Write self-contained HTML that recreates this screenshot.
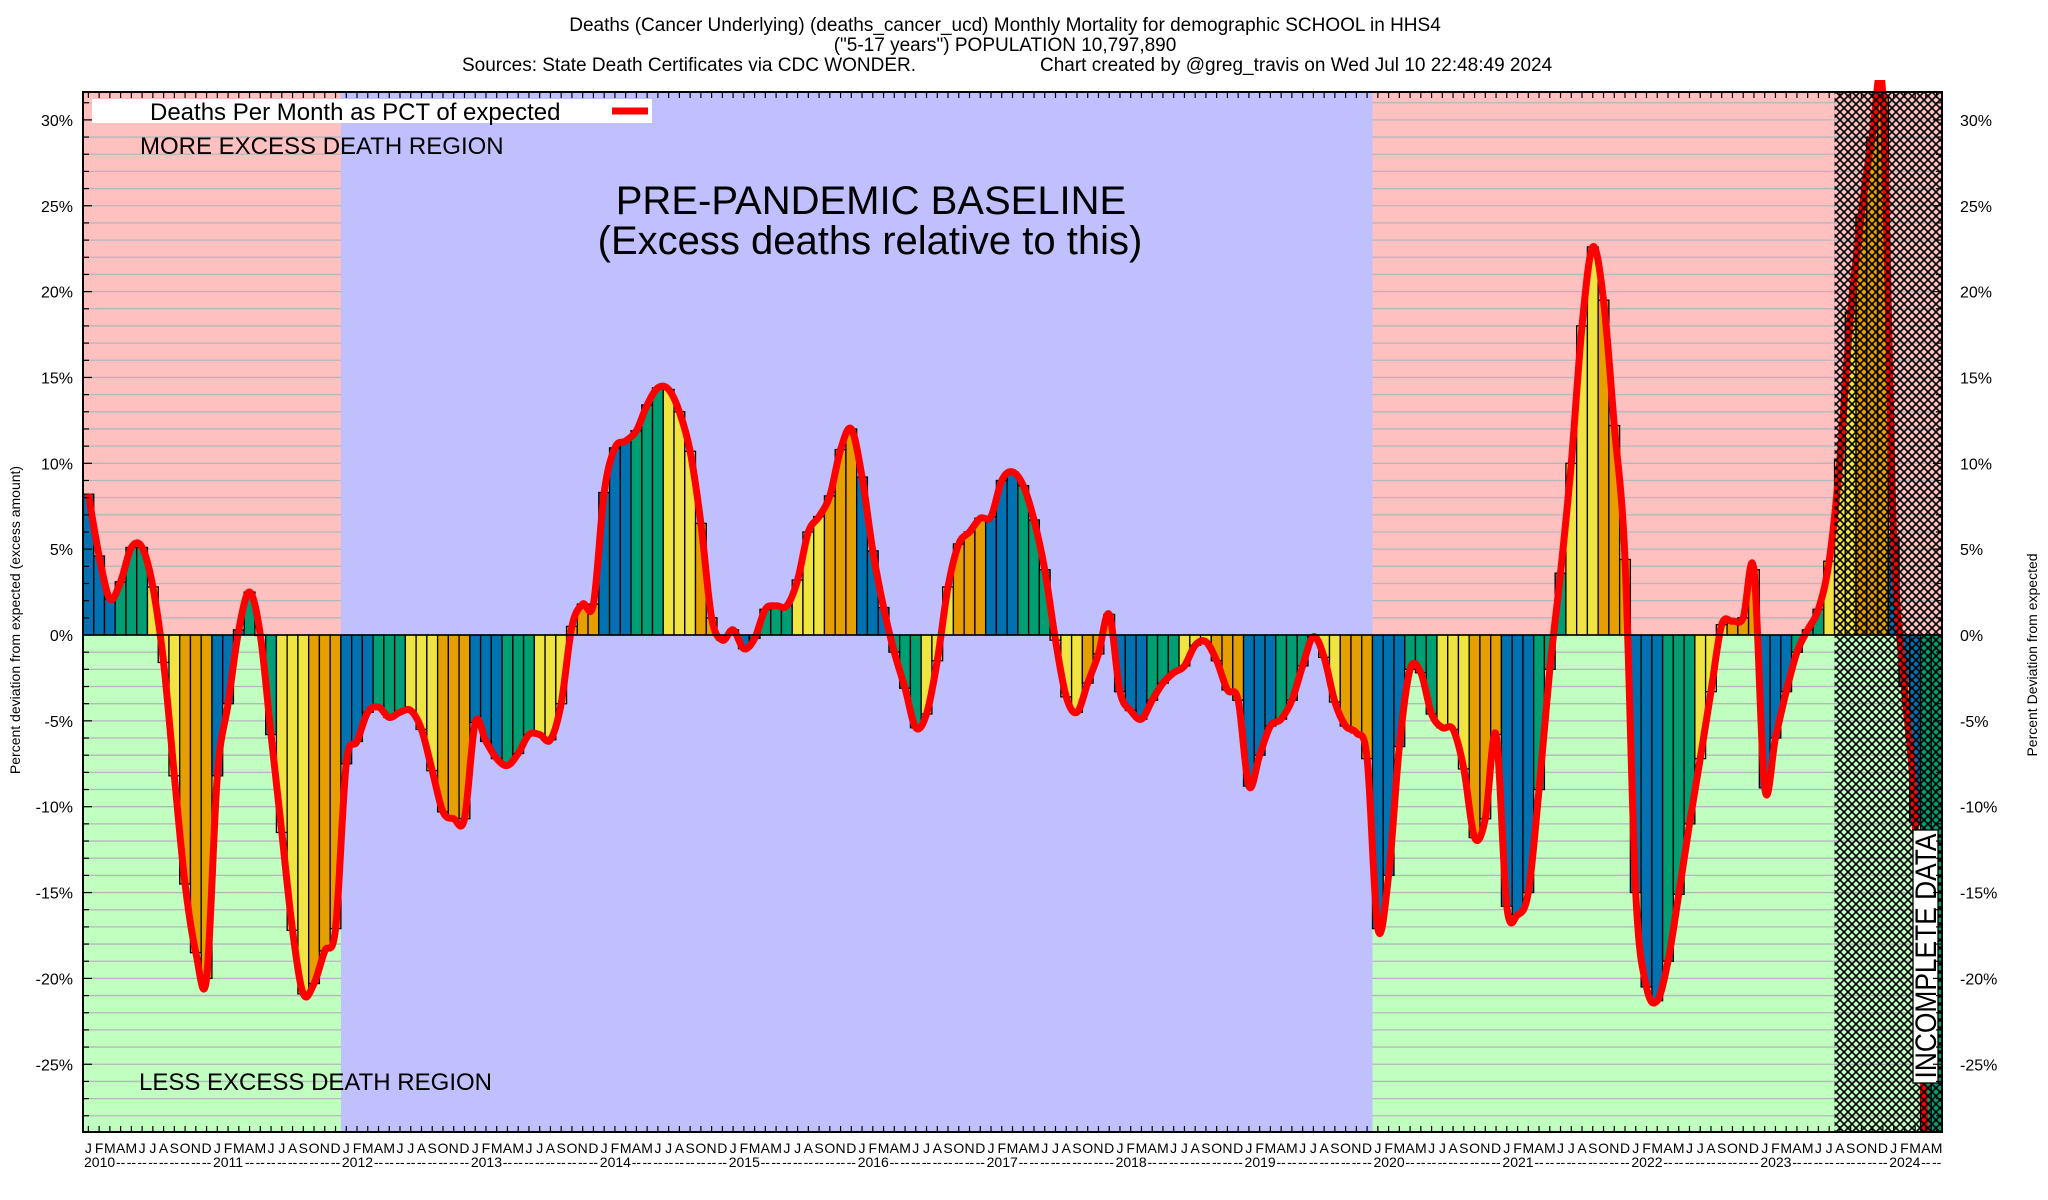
<!DOCTYPE html>
<html><head><meta charset="utf-8">
<style>
html,body{margin:0;padding:0;background:#fff;}
svg{display:block;font-family:"Liberation Sans",Arial,sans-serif;}
</style></head>
<body>
<svg id="chart" width="2048" height="1200" viewBox="0 0 2048 1200" xmlns="http://www.w3.org/2000/svg">
<defs>
<pattern id="hatch" width="8" height="8" patternUnits="userSpaceOnUse">
<path d="M0,0 L8,8 M8,0 L0,8" stroke="#000" stroke-width="1.6" fill="none"/>
</pattern>
<clipPath id="plotclip"><rect x="83" y="80" width="1859" height="1052"/></clipPath>
</defs>
<g id="bg"></g>
<g id="grid"></g>
<g id="blue"></g>
<g id="bars"></g>
<g id="line" clip-path="url(#plotclip)"></g>
<g id="hatchg"></g>
<g id="axes"></g>
<g id="texts">
<text x="1005" y="31" font-size="19" text-anchor="middle">Deaths (Cancer Underlying) (deaths_cancer_ucd) Monthly Mortality for demographic SCHOOL in HHS4</text>
<text x="1005" y="51" font-size="19" text-anchor="middle">("5-17 years") POPULATION 10,797,890</text>
<text x="462" y="71" font-size="19">Sources: State Death Certificates via CDC WONDER.</text>
<text x="1040" y="71" font-size="19">Chart created by @greg_travis on Wed Jul 10 22:48:49 2024</text>
<rect x="92" y="99" width="560" height="24" fill="#fff"/>
<text x="150" y="120" font-size="24">Deaths Per Month as PCT of expected</text>
<line x1="612" y1="111" x2="648" y2="111" stroke="#f00" stroke-width="7"/>
<text x="140" y="154" font-size="24">MORE EXCESS DEATH REGION</text>
<text x="139" y="1090" font-size="24">LESS EXCESS DEATH REGION</text>
<text x="871" y="214" font-size="40" text-anchor="middle">PRE-PANDEMIC BASELINE</text>
<text x="870" y="254" font-size="40" text-anchor="middle">(Excess deaths relative to this)</text>
<text transform="translate(20,620) rotate(-90)" font-size="14" text-anchor="middle">Percent deviation from expected (excess amount)</text>
<text transform="translate(2037,655) rotate(-90)" font-size="14" text-anchor="middle">Percent Deviation from expected</text>
</g>
</svg>
<script>
const years = ["2010","2011","2012","2013","2014","2015","2016","2017","2018","2019","2020","2021","2022","2023","2024"];
const monthLetters = ["J","F","M","A","M","J","J","A","S","O","N","D"];
const yTicks = [30,25,20,15,10,5,0,-5,-10,-15,-20,-25];
const pctValues = [
8.2,4.6,2.1,3.1,5.1,5.1,2.8,-1.6,-8.2,-14.5,-18.5,-20,
-8.2,-4,0.3,2.5,0,-5.8,-11.5,-17.2,-20.9,-20.3,-18.4,-17.1,
-7.5,-6.2,-4.5,-4.2,-4.8,-4.5,-4.4,-5.5,-7.9,-10.3,-10.7,-10.7,
-5.1,-6.2,-7.2,-7.6,-6.9,-5.8,-5.8,-6.1,-4,0.5,1.8,1.8,
8.3,10.9,11.3,11.9,13.4,14.4,14.3,13,10.7,6.5,1,-0.3,
0.3,-0.8,-0.2,1.5,1.7,1.7,3.2,6,6.9,8.1,10.8,12,
9.2,4.9,1.6,-1,-3.1,-5.4,-4.6,-1.5,2.8,5.3,6,6.8,
6.9,9,9.5,8.7,6.7,3.8,-0.3,-3.6,-4.5,-2.8,-1.1,1.2,
-3.3,-4.4,-4.9,-3.8,-2.8,-2.2,-1.8,-0.6,-0.4,-1.5,-3.2,-3.8,
-8.8,-7,-5.3,-4.9,-3.8,-1.8,-0.1,-1.3,-3.9,-5.3,-5.7,-7.2,
-17.1,-14,-6.5,-2,-2.2,-4.6,-5.4,-5.5,-7.8,-11.8,-10.7,-5.8,
-15.8,-16.3,-15,-9,-2,3.6,10,18,22.6,19.5,12.2,4.4,
-15,-20.5,-21.3,-19,-15.1,-11,-7.2,-3.3,0.6,0.8,1,3.8,
-8.9,-6,-3.3,-1,0.3,1.5,4.3,10.2,18.8,24.5,29,31.3,
5.7,-3,-10.9,-29.6,-29.6
];
const regionBaselineStart = 24;
const regionBaselineEnd = 120;
const incompleteStart = 163;

const NS = "http://www.w3.org/2000/svg";
const L = 83, R = 1942, T = 92, B = 1132;
const Y0 = 635, PPP = 17.17;
const N = pctValues.length;
const bw = (R - L) / N;
function xScale(m){ return L + m * bw; }
function yScale(v){ return Y0 - v * PPP; }
function mk(tag, attrs, parent){
  const e = document.createElementNS(NS, tag);
  for (const k in attrs) e.setAttribute(k, attrs[k]);
  parent.appendChild(e);
  return e;
}
const bg = document.getElementById('bg');
let r;
r = mk('rect',{x:L,y:T,width:R-L,height:Y0-T,fill:'#ffc0c0'},bg);


r = mk('rect',{x:L,y:Y0,width:R-L,height:B-Y0,fill:'#c0ffc0'},bg);



const grid = document.getElementById('grid');
for (let p = Math.ceil((Y0-B)/PPP); p <= Math.floor((Y0-T)/PPP); p++){
  if (p === 0) continue;
  const g = mk('line',{x1:L,x2:R,y1:yScale(p),y2:yScale(p),stroke:'#b4b8bc','stroke-width':1.3},grid);
  
  
}
const blue = document.getElementById('blue');
r = mk('rect',{x:xScale(regionBaselineStart),y:T,width:xScale(regionBaselineEnd)-xScale(regionBaselineStart),height:B-T,fill:'#c0c0ff'},blue);



const barColors = ['#0072b2','#009e73','#f0e442','#e69f00'];
const bars = document.getElementById('bars');
pctValues.forEach((v,i)=>{
  const y1 = Math.max(yScale(Math.max(v,0)), T), y2 = Math.min(yScale(Math.min(v,0)), B);
  const b = mk('rect',{x:xScale(i),y:y1,width:bw,height:Math.max(y2-y1,0.5),fill:barColors[Math.floor((i%12)/3)],stroke:'#000','stroke-width':1.3},bars);
  
  
});

const pts = pctValues.map((v,i)=>[xScale(i)+bw/2, yScale(v)]);
let d = 'M'+pts[0][0]+','+pts[0][1];
for (let i=0;i<pts.length-1;i++){
  const p0=pts[Math.max(i-1,0)], p1=pts[i], p2=pts[i+1], p3=pts[Math.min(i+2,pts.length-1)];
  const c1x=p1[0]+(p2[0]-p0[0])/6, c1y=p1[1]+(p2[1]-p0[1])/6;
  const c2x=p2[0]-(p3[0]-p1[0])/6, c2y=p2[1]-(p3[1]-p1[1])/6;
  d += ' C'+c1x+','+c1y+' '+c2x+','+c2y+' '+p2[0]+','+p2[1];
}
const ln = mk('path',{d:d,fill:'none',stroke:'#ff0000','stroke-width':7,'stroke-linejoin':'round'},document.getElementById('line'));



const hg = document.getElementById('hatchg');
r = mk('rect',{x:xScale(incompleteStart),y:T,width:R-xScale(incompleteStart),height:B-T,fill:'url(#hatch)'},hg);


r = mk('rect',{x:1913,y:830,width:25,height:253,fill:'#fff',stroke:'#000','stroke-width':1.3},hg);


const it = mk('text',{transform:'translate(1936,956) rotate(-90)','font-size':30,'text-anchor':'middle',textLength:245,lengthAdjust:'spacingAndGlyphs'},hg);
it.textContent='INCOMPLETE DATA';



const ax = document.getElementById('axes');
r = mk('rect',{x:L,y:T,width:R-L,height:B-T,fill:'none',stroke:'#000','stroke-width':2},ax);


const zl = mk('line',{x1:L,x2:R,y1:Y0,y2:Y0,stroke:'#000','stroke-width':1.5},ax);


for (let p = Math.ceil((Y0-B)/PPP); p <= Math.floor((Y0-T)/PPP); p++){
  const len = (p%5===0)?9:6;
  const t1 = mk('line',{x1:L,x2:L+len,y1:yScale(p),y2:yScale(p),stroke:'#000','stroke-width':1.2},ax);
  
  
  const t2 = mk('line',{x1:R-len,x2:R,y1:yScale(p),y2:yScale(p),stroke:'#000','stroke-width':1.2},ax);
  
  
}
yTicks.forEach(v=>{
  const tl = mk('text',{x:73,y:yScale(v)+6,'font-size':16,'text-anchor':'end'},ax);
  tl.textContent = v+'%';
  
  
  const tr = mk('text',{x:1960,y:yScale(v)+6,'font-size':16},ax);
  tr.textContent = v+'%';
  
  
});
for (let i=0;i<N;i++){
  const x = xScale(i)+bw/2;
  const tt = mk('line',{x1:x,x2:x,y1:T,y2:T+6,stroke:'#000','stroke-width':1.2},ax);
  
  
  const tb = mk('line',{x1:x,x2:x,y1:B-6,y2:B,stroke:'#000','stroke-width':1.2},ax);
  
  
  const ml = mk('text',{x:x,y:1153,'font-size':14,'text-anchor':'middle'},ax);
  ml.textContent = monthLetters[i%12];
  
  
  if (i%12===0){
    const yl = mk('text',{x:xScale(i)+1,y:1167,'font-size':14},ax);
    yl.textContent = years[i/12];
    
    
  } else if (i%12>=3){
    const dl = mk('text',{x:x,y:1167,'font-size':14,'text-anchor':'middle'},ax);
    dl.textContent = '--';
    
    
  }
}
</script>
</body></html>
